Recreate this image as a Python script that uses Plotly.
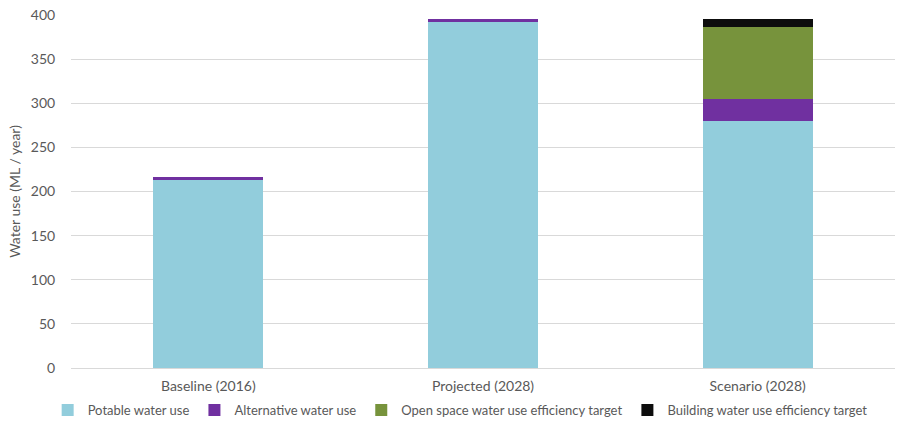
import plotly.graph_objects as go

categories = ["Baseline (2016)", "Projected (2028)", "Scenario (2028)"]
potable = [214, 393, 280]
alternative = [2, 2, 25]
open_space = [0, 0, 81]
building = [0, 0, 10]

series = [
    ("Potable water use", potable, "#92CDDC"),
    ("Alternative water use", alternative, "#7030A0"),
    ("Open space water use efficiency target", open_space, "#77933C"),
    ("Building water use efficiency target", building, "#0D0D0D"),
]

fig = go.Figure()
for name, vals, color in series:
    fig.add_trace(go.Bar(
        x=categories, y=vals, name=name,
        marker=dict(color=color, line=dict(width=0)),
    ))

font_family = "Lato, 'Open Sans', sans-serif"
fig.update_layout(
    barmode="stack",
    bargap=0.6,
    width=897, height=425,
    margin=dict(l=71, r=2, t=15, b=57, autoexpand=False),
    plot_bgcolor="white",
    paper_bgcolor="white",
    font=dict(family=font_family, size=14, color="#595959"),
    legend=dict(
        orientation="h", xref="container", x=0.513, xanchor="center",
        yref="container", y=-0.015, yanchor="bottom",
        bgcolor="rgba(0,0,0,0)",
        font=dict(size=13, color="#595959"),
        itemwidth=30, traceorder="normal",
    ),
    xaxis=dict(showgrid=False, showline=False, ticks="outside", ticklen=5,
               tickcolor="white", tickfont=dict(size=14)),
    yaxis=dict(
        range=[0, 400], dtick=50, showgrid=True, gridcolor="#D9D9D9",
        zeroline=True, zerolinecolor="#D9D9D9", zerolinewidth=1,
        ticks="outside", ticklen=12, tickcolor="white",
        title=dict(text="Water use (ML / year)", standoff=6, font=dict(size=14)),
        tickfont=dict(size=14),
    ),
)

fig.write_html("out.html")
